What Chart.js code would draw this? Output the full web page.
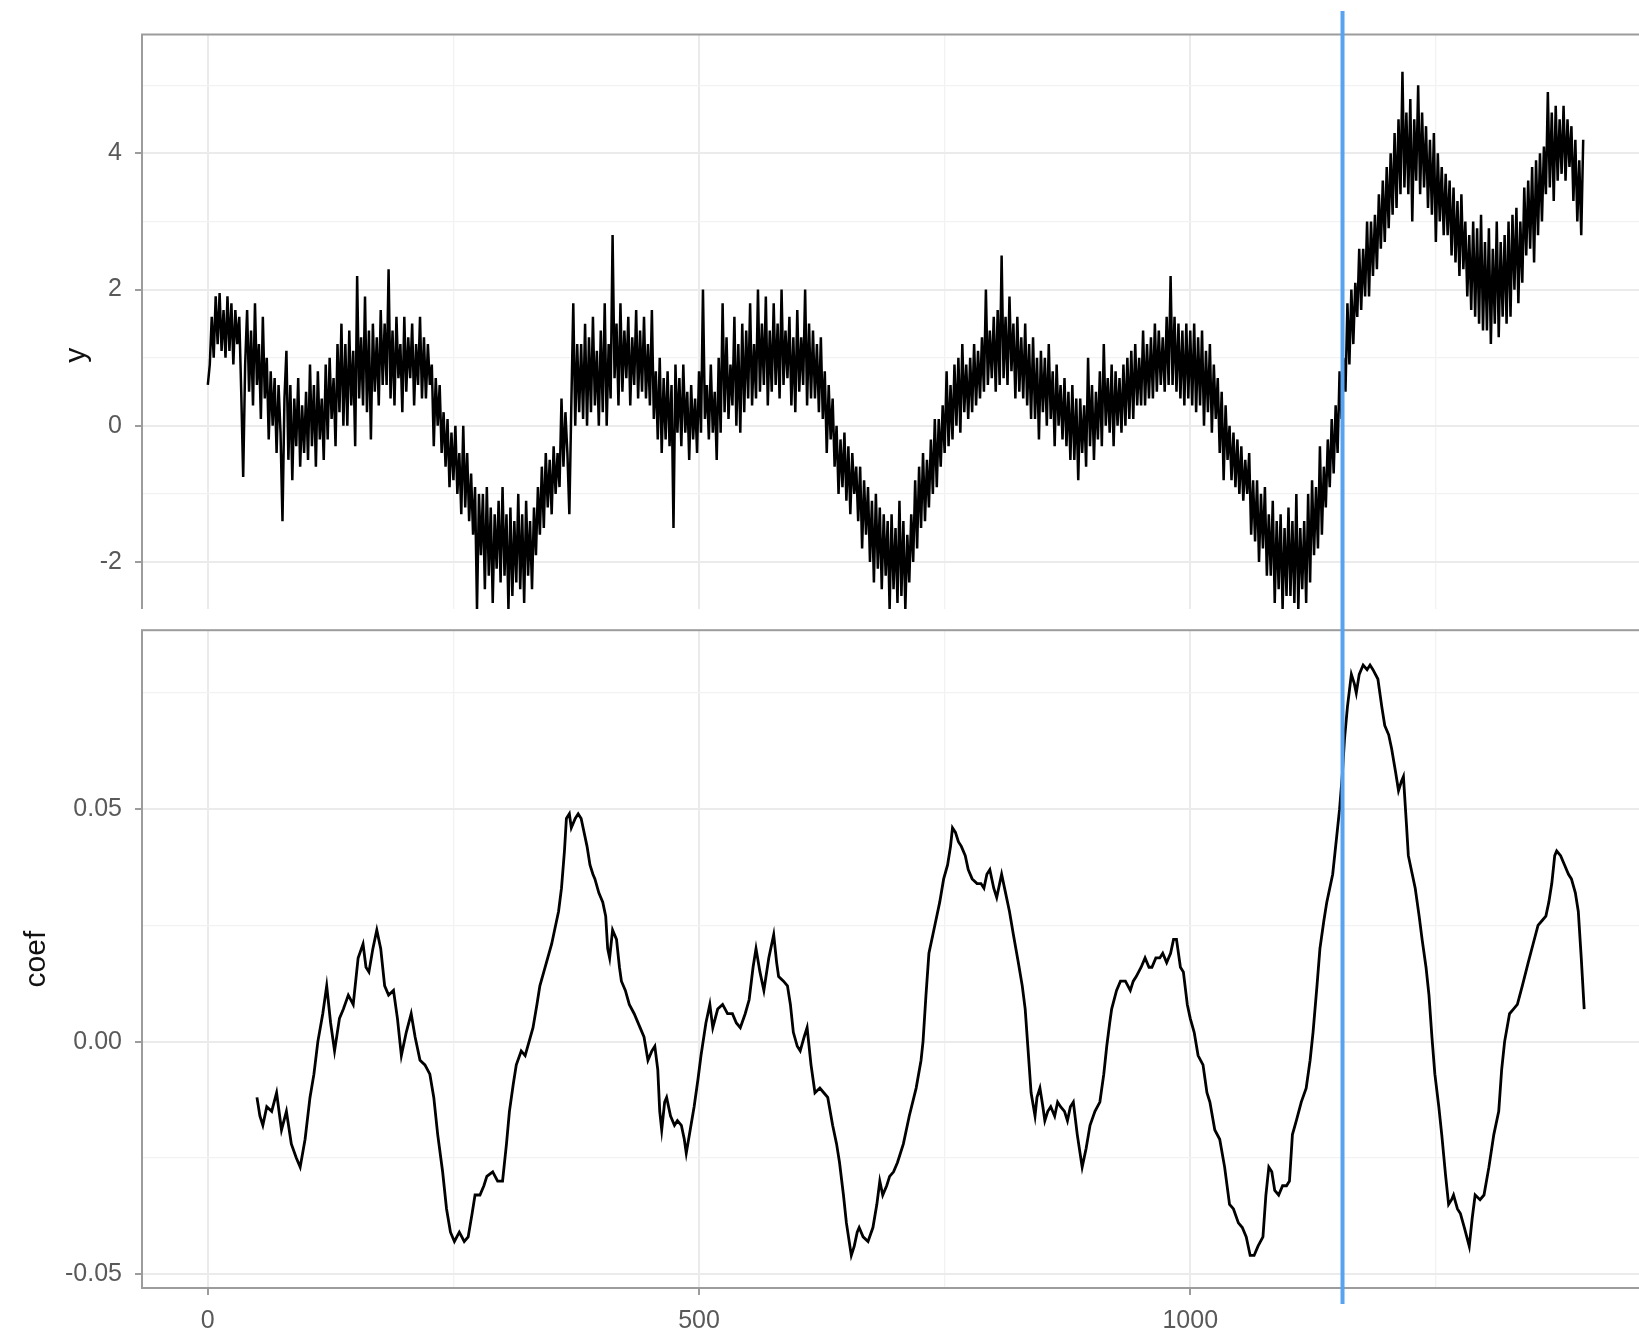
<!DOCTYPE html>
<html lang="en">

<head>
    <meta charset="UTF-8">
    <title>y and coef</title>
    <script src="https://cdn.jsdelivr.net/npm/chart.js"></script>
    <style>
        html,
        body {
            margin: 0;
            padding: 0;
            background: #fff;
            overflow: hidden;
        }

        body {
            width: 1639px;
            height: 1329px;
            position: relative;
        }

        .panel {
            position: absolute;
            left: 0;
            width: 1680px;
            overflow: hidden;
        }

        #topBox {
            top: 0;
            height: 609px;
        }

        #bottomBox {
            top: 609px;
            height: 720px;
        }
    </style>
</head>

<body>
    <div id="topBox" class="panel"><canvas id="yChart" width="1680" height="680"></canvas></div>
    <div id="bottomBox" class="panel"><canvas id="coefChart" width="1680" height="720"></canvas></div>

    <script>
        // series y, one value every 2 steps of the index
        const yStep = 2;
        const yValues = [
            0.6, 0.9, 1.6, 1.0, 1.9, 1.2, 1.95, 1.1, 1.7, 1.0,
            1.9, 1.1, 1.8, 0.9, 1.7, 1.2, 1.6, 0.5, -0.75, 0.9,
            1.7, 0.5, 1.4, 0.3, 1.8, 0.6, 1.2, 0.1, 1.6, 0.4,
            1.0, -0.2, 0.8, 0.0, 0.7, -0.4, 0.6, -0.1, -1.4, 0.4,
            1.1, -0.5, 0.6, -0.8, 0.4, -0.3, 0.7, -0.6, 0.3, -0.4,
            0.5, -0.5, 0.9, -0.3, 0.6, -0.6, 0.8, -0.2, 0.4, -0.5,
            0.9, -0.2, 1.0, 0.1, 0.7, -0.3, 1.2, 0.2, 1.5, 0.0,
            1.2, 0.0, 1.4, 0.3, 1.1, -0.3, 2.2, 0.4, 1.3, 0.3,
            1.9, 0.2, 1.4, -0.2, 1.5, 0.5, 1.3, 0.3, 1.7, 0.6,
            1.5, 0.6, 2.3, 0.4, 1.4, 0.3, 1.6, 0.7, 1.2, 0.2,
            1.6, 0.5, 1.3, 0.7, 1.5, 0.3, 1.2, 0.6, 1.6, 0.4,
            1.3, 0.4, 1.2, 0.6, 0.9, -0.3, 0.7, 0.0, 0.6, -0.4,
            0.2, -0.6, 0.1, -0.9, -0.1, -0.8, 0.0, -1.0, -0.4, -1.3,
            0.0, -1.2, -0.4, -1.4, -0.7, -1.6, -0.9, -2.7, -1.0, -1.9,
            -1.0, -2.4, -0.9, -2.2, -1.2, -2.6, -1.3, -2.1, -1.1, -2.3,
            -0.9, -2.2, -1.3, -2.7, -1.2, -2.5, -1.4, -2.3, -1.0, -2.4,
            -1.3, -2.6, -1.1, -2.2, -1.4, -2.4, -1.2, -1.9, -0.9, -1.6,
            -0.6, -1.5, -0.4, -1.2, -0.5, -1.3, -0.3, -1.0, -0.4, -0.9,
            0.4, -0.6, 0.2, -0.4, -1.3, 0.3, 1.8, 0.0, 1.2, 0.2,
            1.2, 0.1, 1.5, 0.0, 1.3, 0.2, 1.6, 0.3, 1.1, 0.0,
            1.4, 0.2, 1.8, 0.0, 1.2, 0.4, 2.8, 0.7, 1.5, 0.3,
            1.8, 0.5, 1.4, 0.7, 1.6, 0.3, 1.3, 0.6, 1.7, 0.4,
            1.4, 0.5, 1.6, 0.4, 1.2, 0.3, 1.7, 0.1, 0.8, -0.2,
            1.0, -0.4, 0.7, -0.2, 0.8, -0.3, 0.6, -1.5, 0.9, -0.1,
            0.7, -0.3, 0.9, -0.1, 0.5, -0.5, 0.6, -0.2, 0.4, -0.4,
            0.8, -0.1, 2.0, 0.1, 0.6, -0.2, 0.9, -0.1, 0.5, -0.5,
            1.0, -0.1, 1.8, 0.2, 1.3, 0.1, 0.9, 0.3, 1.6, 0.0,
            1.2, -0.1, 1.5, 0.2, 1.4, 0.4, 1.8, 0.3, 1.2, 0.4,
            2.0, 0.5, 1.5, 0.6, 1.9, 0.3, 1.4, 0.5, 1.8, 0.6,
            1.5, 0.4, 2.0, 0.6, 1.4, 0.7, 1.6, 0.3, 1.3, 0.2,
            1.7, 0.5, 1.3, 0.6, 2.0, 0.3, 1.5, 0.4, 1.4, 0.4,
            1.2, 0.2, 1.3, 0.1, 0.8, -0.4, 0.6, -0.2, 0.4, -0.6,
            0.0, -1.0, -0.2, -0.9, -0.1, -1.1, -0.3, -1.3, -0.4, -1.0,
            -0.6, -1.4, -0.6, -1.8, -0.8, -1.6, -0.9, -2.0, -1.1, -2.3,
            -1.0, -2.1, -1.2, -2.4, -1.3, -2.2, -1.4, -2.7, -1.3, -2.4,
            -1.5, -2.6, -1.1, -2.5, -1.4, -2.7, -1.6, -2.3, -1.3, -2.0,
            -0.8, -1.8, -0.6, -1.5, -0.4, -1.4, -0.5, -1.2, -0.2, -1.0,
            0.1, -0.9, 0.1, -0.6, 0.3, -0.4, 0.8, -0.3, 0.6, -0.2,
            0.9, 0.0, 1.0, -0.1, 1.2, 0.2, 0.9, 0.1, 1.0, 0.2,
            1.2, 0.3, 1.1, 0.4, 1.3, 0.5, 2.0, 0.6, 1.4, 0.7,
            1.6, 0.5, 1.7, 0.6, 2.5, 0.7, 1.6, 0.6, 1.9, 0.8,
            1.5, 0.4, 1.6, 0.5, 1.3, 0.4, 1.5, 0.3, 1.2, 0.1,
            1.3, 0.1, 1.0, -0.2, 1.1, 0.2, 1.0, 0.0, 1.2, 0.1,
            0.8, -0.3, 0.9, 0.0, 0.6, -0.2, 0.7, -0.3, 0.5, -0.5,
            0.6, -0.5, 0.4, -0.8, 0.4, -0.4, 0.3, -0.6, 1.0, -0.3,
            0.6, -0.5, 0.5, -0.2, 0.8, -0.3, 1.2, 0.0, 0.7, -0.1,
            0.9, -0.3, 0.8, 0.0, 0.7, -0.1, 0.9, 0.0, 1.0, 0.1,
            1.1, 0.1, 1.2, 0.3, 1.0, 0.3, 1.4, 0.3, 1.2, 0.4,
            1.3, 0.4, 1.5, 0.5, 1.4, 0.6, 1.3, 0.5, 1.6, 0.6,
            2.2, 0.6, 1.6, 0.5, 1.5, 0.4, 1.4, 0.3, 1.5, 0.4,
            1.4, 0.3, 1.5, 0.2, 1.3, 0.3, 1.4, 0.0, 1.1, 0.2,
            1.2, -0.1, 0.9, 0.1, 0.7, -0.4, 0.5, -0.8, 0.3, -0.5,
            0.0, -0.8, -0.1, -0.9, -0.2, -1.0, -0.3, -1.1, -0.5, -1.0,
            -0.4, -1.6, -0.8, -1.7, -0.8, -2.0, -1.0, -1.8, -0.9, -2.2,
            -1.3, -2.2, -1.1, -2.6, -1.4, -2.4, -1.3, -2.7, -1.5, -2.5,
            -1.2, -2.5, -1.4, -2.6, -1.0, -2.7, -1.5, -2.4, -1.4, -2.6,
            -1.0, -2.3, -0.8, -1.9, -0.9, -1.8, -0.3, -1.6, -0.6, -1.2,
            -0.2, -0.9, 0.1, -0.7, 0.3, -0.4, 0.8, 0.1, 1.0, 0.5,
            1.8, 0.9, 2.0, 1.2, 2.1, 1.6, 2.6, 1.7, 2.6, 1.9,
            3.0, 1.9, 3.0, 2.2, 3.1, 2.3, 3.4, 2.6, 3.6, 2.7,
            3.8, 2.9, 4.0, 3.1, 4.3, 3.2, 4.5, 3.4, 5.2, 3.5,
            4.6, 3.4, 4.8, 3.0, 4.5, 3.6, 5.0, 3.4, 4.6, 3.5,
            4.4, 3.2, 4.2, 3.1, 4.3, 2.7, 4.0, 3.0, 3.8, 2.8,
            3.7, 2.8, 3.6, 2.5, 3.5, 2.4, 3.3, 2.2, 3.4, 2.3,
            3.0, 1.9, 2.8, 1.7, 3.0, 1.6, 2.9, 1.5, 3.1, 1.4,
            2.7, 1.4, 2.9, 1.2, 2.6, 1.5, 3.0, 1.3, 2.7, 1.6,
            2.8, 1.5, 3.0, 1.6, 3.1, 2.0, 3.2, 1.8, 3.0, 2.1,
            3.5, 2.5, 3.6, 2.6, 3.8, 2.4, 3.9, 2.8, 4.0, 3.0,
            4.1, 3.4, 4.9, 3.5, 4.6, 3.3, 4.7, 3.6, 4.5, 3.7,
            4.7, 3.6, 4.5, 3.8, 4.4, 3.3, 4.2, 3.0, 3.9, 2.8,
            4.2
        ];
        const yIndex = yValues.map((v, i) => i * yStep);

        // rolling coefficient
        const coefX = [
            50, 53, 56, 60, 65, 70, 75, 80, 85, 90, 94, 99, 104, 108, 112, 117, 121, 125, 129, 134,
            138, 143, 148, 153, 158, 161, 164, 168, 172, 176, 180, 184, 189, 193, 197, 202, 207, 211, 216, 221,
            226, 230, 234, 239, 243, 247, 251, 256, 261, 265, 269, 272, 277, 281, 284, 290, 295, 300, 304, 307,
            311, 314, 319, 323, 327, 331, 335, 338, 342, 346, 350, 353, 357, 360, 363, 365, 368, 370, 374, 377,
            380, 382, 386, 389, 392, 394, 398, 402, 405, 407, 409, 412, 416, 419, 421, 425, 429, 434, 440, 444,
            448, 452, 455, 458, 460, 462, 465, 467, 471, 475, 478, 482, 485, 487, 491, 495, 499, 502, 507, 511,
            514, 519, 524, 529, 534, 538, 542, 547, 551, 555, 558, 562, 566, 571, 576, 579, 581, 586, 590, 593,
            596, 600, 603, 607, 610, 614, 618, 623, 627, 631, 636, 640, 643, 647, 650, 655, 658, 661, 663, 667,
            672, 677, 681, 684, 687, 691, 694, 698, 702, 708, 714, 721, 726, 728, 731, 734, 738, 741, 745, 749,
            753, 756, 758, 761, 764, 767, 771, 774, 778, 783, 787, 790, 793, 796, 800, 803, 806, 808, 812, 816,
            820, 825, 829, 832, 835, 838, 842, 844, 847, 850, 852, 855, 858, 862, 865, 868, 872, 875, 878, 881,
            885, 890, 894, 898, 903, 908, 912, 915, 918, 920, 925, 929, 934, 939, 942, 945, 950, 954, 958, 961,
            965, 969, 972, 976, 980, 983, 986, 990, 993, 997, 1000, 1004, 1008, 1013, 1017, 1020, 1025, 1030, 1035, 1040,
            1044, 1049, 1053, 1057, 1061, 1065, 1069, 1074, 1077, 1080, 1083, 1086, 1090, 1094, 1098, 1101, 1104, 1108, 1113, 1118,
            1122, 1125, 1129, 1132, 1136, 1139, 1142, 1145, 1149, 1152, 1155, 1157, 1160, 1164, 1167, 1169, 1172, 1176, 1180, 1183,
            1186, 1191, 1195, 1198, 1202, 1205, 1209, 1212, 1215, 1217, 1220, 1222, 1226, 1229, 1233, 1236, 1240, 1243, 1246, 1249,
            1253, 1256, 1260, 1263, 1266, 1268, 1272, 1275, 1279, 1284, 1287, 1290, 1295, 1299, 1304, 1309, 1314, 1317, 1320, 1325,
            1329, 1333, 1338, 1344, 1349, 1354, 1358, 1362, 1365, 1368, 1371, 1373, 1377, 1381, 1385, 1388, 1392, 1395, 1398, 1401
        ];
        const coefY = [
            -0.012, -0.016, -0.018, -0.014, -0.015, -0.011, -0.019, -0.015, -0.022, -0.025, -0.027, -0.021, -0.012, -0.007, 0.000, 0.006, 0.012, 0.004, -0.002, 0.005,
            0.007, 0.010, 0.008, 0.018, 0.021, 0.016, 0.015, 0.020, 0.024, 0.020, 0.012, 0.010, 0.011, 0.005, -0.003, 0.002, 0.006, 0.001, -0.004, -0.005,
            -0.007, -0.012, -0.020, -0.028, -0.036, -0.041, -0.043, -0.041, -0.043, -0.042, -0.037, -0.033, -0.033, -0.031, -0.029, -0.028, -0.030, -0.030, -0.022, -0.015,
            -0.009, -0.005, -0.002, -0.003, 0.000, 0.003, 0.008, 0.012, 0.015, 0.018, 0.021, 0.024, 0.028, 0.033, 0.041, 0.048, 0.049, 0.046, 0.048, 0.049,
            0.048, 0.046, 0.042, 0.038, 0.036, 0.035, 0.032, 0.030, 0.027, 0.020, 0.018, 0.024, 0.022, 0.016, 0.013, 0.011, 0.008, 0.006, 0.003, 0.001,
            -0.004, -0.002, -0.001, -0.006, -0.015, -0.019, -0.013, -0.012, -0.016, -0.018, -0.017, -0.018, -0.021, -0.024, -0.019, -0.014, -0.008, -0.003, 0.004, 0.008,
            0.003, 0.007, 0.008, 0.006, 0.006, 0.004, 0.003, 0.006, 0.009, 0.016, 0.020, 0.015, 0.011, 0.018, 0.023, 0.017, 0.014, 0.013, 0.012, 0.008,
            0.002, -0.001, -0.002, 0.001, 0.003, -0.005, -0.011, -0.010, -0.011, -0.012, -0.018, -0.022, -0.026, -0.033, -0.039, -0.046, -0.044, -0.041, -0.040, -0.042,
            -0.043, -0.040, -0.035, -0.030, -0.033, -0.031, -0.029, -0.028, -0.026, -0.022, -0.016, -0.010, -0.004, 0.000, 0.010, 0.019, 0.023, 0.026, 0.030, 0.035,
            0.038, 0.042, 0.046, 0.045, 0.043, 0.042, 0.040, 0.037, 0.035, 0.034, 0.034, 0.033, 0.036, 0.037, 0.033, 0.031, 0.034, 0.036, 0.032, 0.028,
            0.023, 0.017, 0.012, 0.007, -0.002, -0.011, -0.016, -0.012, -0.010, -0.014, -0.017, -0.015, -0.014, -0.016, -0.013, -0.014, -0.015, -0.017, -0.014, -0.013,
            -0.020, -0.027, -0.023, -0.018, -0.015, -0.013, -0.007, -0.001, 0.004, 0.007, 0.011, 0.013, 0.013, 0.011, 0.013, 0.014, 0.016, 0.018, 0.016, 0.016,
            0.018, 0.018, 0.019, 0.017, 0.019, 0.022, 0.022, 0.016, 0.015, 0.008, 0.005, 0.002, -0.003, -0.005, -0.011, -0.013, -0.019, -0.021, -0.027, -0.035,
            -0.036, -0.039, -0.040, -0.042, -0.046, -0.046, -0.044, -0.042, -0.033, -0.027, -0.028, -0.032, -0.033, -0.031, -0.031, -0.030, -0.020, -0.017, -0.013, -0.010,
            -0.004, 0.002, 0.012, 0.020, 0.026, 0.030, 0.033, 0.036, 0.044, 0.050, 0.058, 0.065, 0.072, 0.079, 0.077, 0.075, 0.079, 0.081, 0.080, 0.081,
            0.080, 0.078, 0.072, 0.068, 0.066, 0.063, 0.058, 0.054, 0.056, 0.057, 0.047, 0.040, 0.036, 0.033, 0.027, 0.022, 0.016, 0.010, 0.001, -0.007,
            -0.014, -0.020, -0.029, -0.035, -0.034, -0.033, -0.036, -0.037, -0.040, -0.044, -0.038, -0.033, -0.034, -0.033, -0.027, -0.020, -0.015, -0.006, 0.000, 0.006,
            0.007, 0.008, 0.012, 0.017, 0.021, 0.025, 0.026, 0.027, 0.030, 0.034, 0.040, 0.041, 0.040, 0.038, 0.036, 0.035, 0.032, 0.028, 0.018, 0.007
        ];

        // where the blue marker sits
        const changePoint = 1155;

        // axis breaks
        const xMajorTicks = [0, 500, 1000];
        const xMinorTicks = [250, 750, 1250];
        const yMajorTicks = [-2, 0, 2, 4];
        const yMinorTicks = [-3, -1, 1, 3, 5];
        const coefMajorTicks = [-0.05, 0, 0.05];
        const coefMinorTicks = [-0.025, 0.025, 0.075];

        const fontFamily = "'Liberation Sans', Arial, Helvetica, sans-serif";
        const tickFont = { family: fontFamily, size: 25 };
        const titleFont = { family: fontFamily, size: 30 };
        const tickGrey = "#595959";
        const frameGrey = "#9c9c9c";

        function breaks(major, minor) {
            return scale => {
                scale.ticks = major.concat(minor).sort((a, b) => a - b).map(v => ({ value: v }));
            };
        }

        function gridStyle(major, drawTicks) {
            return {
                drawTicks: drawTicks,
                tickLength: 7,
                color: ctx => major.includes(ctx.tick.value) ? "#ebebeb" : "#f2f2f2",
                lineWidth: ctx => major.includes(ctx.tick.value) ? 2 : 1.3,
                tickColor: ctx => major.includes(ctx.tick.value) ? frameGrey : "rgba(0,0,0,0)",
                tickWidth: 2
            };
        }

        // panel border + blue marker line
        const panelFrame = {
            id: "panelFrame",
            beforeDatasetsDraw(chart) {
                const a = chart.chartArea;
                const ctx = chart.ctx;
                ctx.save();
                ctx.strokeStyle = frameGrey;
                ctx.lineWidth = 2;
                ctx.strokeRect(a.left, a.top, a.right - a.left, a.bottom - a.top);
                ctx.restore();
            },
            afterDatasetsDraw(chart, args, opts) {
                const x = chart.scales.x.getPixelForValue(changePoint);
                const ctx = chart.ctx;
                ctx.save();
                ctx.strokeStyle = "#58a2f0";
                ctx.lineWidth = 4;
                ctx.beginPath();
                ctx.moveTo(x, opts.from);
                ctx.lineTo(x, opts.to);
                ctx.stroke();
                ctx.restore();
            }
        };

        function xAxis(showLabels, height) {
            return {
                type: "linear",
                min: -67,
                max: 1469,
                afterBuildTicks: breaks(xMajorTicks, xMinorTicks),
                afterFit: s => { s.height = height; s.paddingLeft = 0; s.paddingRight = 0; },
                border: { display: false },
                grid: gridStyle(xMajorTicks, showLabels),
                ticks: {
                    display: showLabels,
                    autoSkip: false,
                    maxRotation: 0,
                    padding: 11,
                    color: tickGrey,
                    font: tickFont,
                    callback: v => xMajorTicks.includes(v) ? String(v) : ""
                }
            };
        }

        function yAxis(min, max, major, minor, label, titleOffset, fmt) {
            return {
                type: "linear",
                min: min,
                max: max,
                afterBuildTicks: breaks(major, minor),
                // fixed width, and no extra room above/below for the labels
                afterFit: s => { s.width = 142; s.paddingTop = 0; s.paddingBottom = 0; },
                border: { display: false },
                grid: gridStyle(major, true),
                ticks: {
                    autoSkip: false,
                    padding: 13,
                    color: tickGrey,
                    font: tickFont,
                    callback: v => major.includes(v) ? fmt(v) : ""
                },
                title: {
                    display: true,
                    text: label,
                    color: "#111111",
                    font: titleFont,
                    padding: { top: titleOffset, bottom: 0 }
                }
            };
        }

        Chart.defaults.animation = false;

        // top panel: y
        new Chart(document.getElementById("yChart"), {
            type: "line",
            data: {
                datasets: [{
                    data: yIndex.map((x, i) => ({ x: x, y: yValues[i] })),
                    borderColor: "#000000",
                    borderWidth: 2.5,
                    pointRadius: 0,
                    tension: 0
                }]
            },
            options: {
                responsive: false,
                devicePixelRatio: 1,
                layout: { padding: { top: 34.5, right: 29, bottom: 4, left: 0 } },
                plugins: {
                    legend: { display: false },
                    tooltip: { enabled: false },
                    panelFrame: { from: 11, to: 680 }
                },
                scales: {
                    x: xAxis(false, 0),
                    y: yAxis(-3.674, 5.746, yMajorTicks, yMinorTicks, "y", 59, v => String(v))
                }
            },
            plugins: [panelFrame]
        });

        // bottom panel: coef
        new Chart(document.getElementById("coefChart"), {
            type: "line",
            data: {
                datasets: [{
                    data: coefX.map((x, i) => ({ x: x, y: coefY[i] })),
                    borderColor: "#000000",
                    borderWidth: 2.8,
                    pointRadius: 0,
                    tension: 0
                }]
            },
            options: {
                responsive: false,
                devicePixelRatio: 1,
                layout: { padding: { top: 21.2, right: 29, bottom: 0, left: 0 } },
                plugins: {
                    legend: { display: false },
                    tooltip: { enabled: false },
                    panelFrame: { from: 0, to: 695 }
                },
                scales: {
                    x: xAxis(true, 41),
                    y: yAxis(-0.053, 0.0885, coefMajorTicks, coefMinorTicks, "coef", 19, v => v.toFixed(2))
                }
            },
            plugins: [panelFrame]
        });
    </script>
</body>

</html>
